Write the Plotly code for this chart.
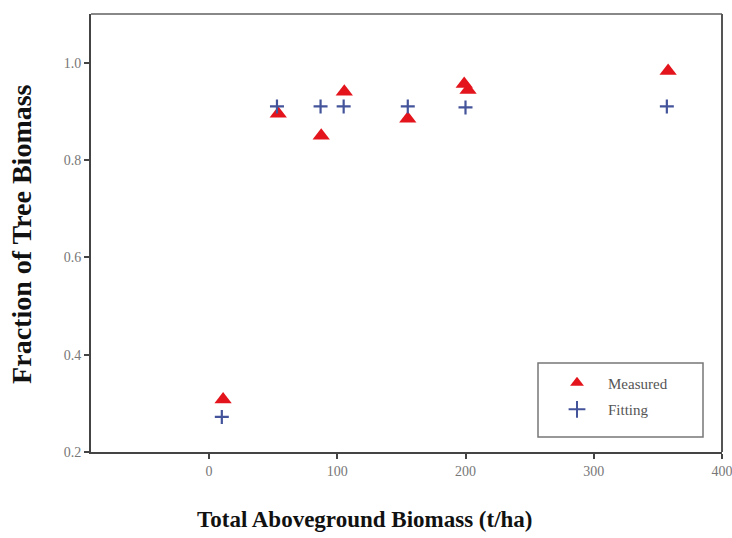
import plotly.graph_objects as go

# Measured fraction of tree biomass vs total aboveground biomass
measured_x = [11, 54, 87.5, 105.5, 155, 199, 202, 358]
measured_y = [0.308, 0.895, 0.850, 0.940, 0.885, 0.956, 0.944, 0.983]

# Fitted values
fitting_x = [10, 53, 87, 105, 155, 200, 357]
fitting_y = [0.272, 0.910, 0.910, 0.910, 0.910, 0.908, 0.910]

x_ticks = [0, 100, 200, 300, 400]
y_ticks = [0.2, 0.4, 0.6, 0.8, 1.0]

serif = "Liberation Serif, Times New Roman, serif"

fig = go.Figure()
fig.add_trace(go.Scatter(
    x=measured_x, y=measured_y, mode="markers", name="Measured",
    legendgroup="m",
    marker=dict(symbol="triangle-up", size=15, color="#e3141c",
                line=dict(width=0)),
))
fig.add_trace(go.Scatter(
    x=fitting_x, y=fitting_y, mode="markers", name="Fitting",
    legendgroup="f",
    marker=dict(symbol="cross-thin", size=10, color="#44549a",
                line=dict(width=2.2, color="#44549a")),
))

# Plot area in pixels: x 91..722, y 14..452
fig.update_layout(
    width=732, height=538,
    margin=dict(l=91, r=10, t=14, b=86),
    paper_bgcolor="white", plot_bgcolor="white",
    font=dict(family=serif, size=14, color="#777777"),
    showlegend=True,
    legend=dict(
        x=(546 - 91) / 631, y=0.195, xanchor="left", yanchor="top",
        bgcolor="rgba(0,0,0,0)", borderwidth=0,
        font=dict(family=serif, size=15, color="#555555"),
        itemwidth=52, tracegroupgap=4, itemsizing="constant",
    ),
    annotations=[
        dict(text="<b>Total Aboveground Biomass (t/ha)</b>",
             xref="paper", yref="paper", x=0.435, y=-0.155,
             xanchor="center", yanchor="middle", showarrow=False,
             font=dict(family=serif, size=23, color="#111111")),
        dict(text="<b>Fraction of Tree Biomass</b>",
             xref="paper", yref="paper", x=-0.11, y=0.497,
             xanchor="center", yanchor="middle", showarrow=False,
             textangle=-90,
             font=dict(family=serif, size=28, color="#111111")),
    ],
)

fig.update_xaxes(
    range=[-92, 400], tickvals=x_ticks, ticktext=[str(v) for v in x_ticks],
    showgrid=False, zeroline=False, automargin=False,
    showline=True, linecolor="#444444", linewidth=2, mirror=False,
    ticks="outside", ticklen=5, tickwidth=2, tickcolor="#444444",
    ticklabeloverflow="allow",
    tickfont=dict(family=serif, size=14, color="#777777"),
)
fig.update_yaxes(
    range=[0.2, 1.1], tickvals=y_ticks, ticktext=[f"{v:.1f}" for v in y_ticks],
    showgrid=False, zeroline=False, automargin=False,
    showline=True, linecolor="#444444", linewidth=2, mirror=False,
    ticks="outside", ticklen=5, tickwidth=2, tickcolor="#444444",
    tickfont=dict(family=serif, size=14, color="#777777"),
)

# Top and right frame edges
fig.add_shape(type="line", xref="paper", yref="paper", x0=0, x1=1, y0=1, y1=1,
              line=dict(color="#888888", width=2))
fig.add_shape(type="line", xref="paper", yref="paper", x0=1, x1=1, y0=0, y1=1,
              line=dict(color="#555555", width=2))

# Legend frame
fig.add_shape(type="rect", xref="paper", yref="paper",
              x0=(538 - 91) / 631, x1=(703 - 91) / 631,
              y0=(452 - 437) / 438, y1=(452 - 363) / 438,
              line=dict(color="#777777", width=1.5), fillcolor="rgba(0,0,0,0)")

fig.write_html("out.html")
